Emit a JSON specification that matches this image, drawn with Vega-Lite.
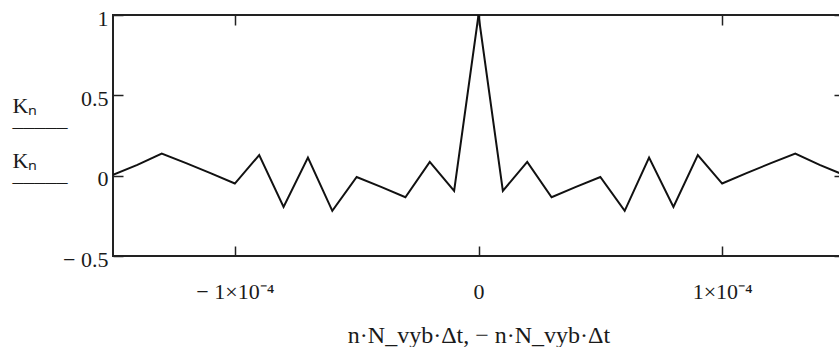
{
  "$schema": "https://vega.github.io/schema/vega-lite/v6.json",
  "width": 731,
  "height": 241,
  "autosize": "none",
  "padding": {"left": 113, "top": 15, "right": 0, "bottom": 91},
  "background": "white",
  "config": {
    "view": {"stroke": "#222", "strokeWidth": 2},
    "font": "Liberation Serif"
  },
  "data": {
    "values": [
      {"series": "pos", "t": 0, "k": 1},
      {"series": "pos", "t": 0.00001, "k": -0.095},
      {"series": "pos", "t": 0.00002, "k": 0.086},
      {"series": "pos", "t": 0.00003, "k": -0.134},
      {"series": "pos", "t": 0.00004, "k": -0.07},
      {"series": "pos", "t": 0.00005, "k": -0.008},
      {"series": "pos", "t": 0.00006, "k": -0.219},
      {"series": "pos", "t": 0.00007, "k": 0.113},
      {"series": "pos", "t": 0.00008, "k": -0.194},
      {"series": "pos", "t": 0.00009, "k": 0.128},
      {"series": "pos", "t": 0.0001, "k": -0.049},
      {"series": "pos", "t": 0.00011, "k": 0.016},
      {"series": "pos", "t": 0.00012, "k": 0.078},
      {"series": "pos", "t": 0.00013, "k": 0.138},
      {"series": "pos", "t": 0.00014, "k": 0.067},
      {"series": "pos", "t": 0.00015, "k": 0.005},
      {"series": "neg", "t": 0, "k": 1},
      {"series": "neg", "t": -0.00001, "k": -0.095},
      {"series": "neg", "t": -0.00002, "k": 0.086},
      {"series": "neg", "t": -0.00003, "k": -0.134},
      {"series": "neg", "t": -0.00004, "k": -0.07},
      {"series": "neg", "t": -0.00005, "k": -0.008},
      {"series": "neg", "t": -0.00006, "k": -0.219},
      {"series": "neg", "t": -0.00007, "k": 0.113},
      {"series": "neg", "t": -0.00008, "k": -0.194},
      {"series": "neg", "t": -0.00009, "k": 0.128},
      {"series": "neg", "t": -0.0001, "k": -0.049},
      {"series": "neg", "t": -0.00011, "k": 0.016},
      {"series": "neg", "t": -0.00012, "k": 0.078},
      {"series": "neg", "t": -0.00013, "k": 0.138},
      {"series": "neg", "t": -0.00014, "k": 0.067},
      {"series": "neg", "t": -0.00015, "k": 0.005}
    ]
  },
  "layer": [
    {
      "mark": {"type": "line", "color": "#111", "strokeWidth": 2, "clip": true},
      "encoding": {
        "x": {
          "field": "t", "type": "quantitative",
          "scale": {"domain": [-0.00015, 0.00015], "nice": false, "zero": false},
          "axis": {
            "orient": "bottom",
            "values": [-0.0001, 0, 0.0001],
            "labelExpr": "datum.value == 0 ? '0' : (datum.value < 0 ? '− 1×10⁻⁴' : '1×10⁻⁴')",
            "tickSize": -10, "tickColor": "#222", "tickWidth": 1.5,
            "domain": false, "grid": false,
            "labelFont": "Liberation Serif", "labelFontSize": 22, "labelColor": "#1a1a1a",
            "labelBaseline": "top", "labelPadding": 35, "labelFlush": false,
            "title": "n·N_vyb·Δt, − n·N_vyb·Δt",
            "titleFont": "Liberation Serif", "titleFontSize": 24, "titleFontWeight": "normal", "titleColor": "#1a1a1a",
            "titleBaseline": "alphabetic", "titleY": 86
          }
        },
        "y": {
          "field": "k", "type": "quantitative",
          "scale": {"domain": [-0.5, 1], "nice": false, "zero": false},
          "axis": {
            "orient": "left",
            "values": [-0.5, 0, 0.5, 1],
            "labelExpr": "datum.value == 1 ? '1' : (datum.value == 0.5 ? '0.5' : (datum.value == 0 ? '0' : '− 0.5'))",
            "tickSize": -10, "tickColor": "#222", "tickWidth": 1.5,
            "domain": false, "grid": false,
            "labelFont": "Liberation Serif", "labelFontSize": 22, "labelColor": "#1a1a1a",
            "labelPadding": 15, "labelFlush": false, "labelOffset": 3, "labelBaseline": "middle",
            "title": ["Kₙ", "_____"],
            "titleFont": "Liberation Serif", "titleFontSize": 22, "titleFontWeight": "normal", "titleColor": "#1a1a1a",
            "titleAngle": 0, "titleAlign": "left", "titleBaseline": "alphabetic",
            "titleLineHeight": 13.5, "titleX": -101, "titleY": 97
          }
        },
        "detail": {"field": "series"}
      }
    },
    {
      "mark": {"type": "line", "opacity": 0},
      "encoding": {
        "x": {
          "field": "t", "type": "quantitative",
          "axis": {
            "orient": "top", "values": [-0.0001, 0, 0.0001],
            "labels": false, "title": null, "domain": false, "grid": false,
            "tickSize": -10, "tickColor": "#222", "tickWidth": 1.5
          }
        },
        "y": {
          "field": "k", "type": "quantitative",
          "axis": {
            "orient": "right", "values": [-0.5, 0, 0.5, 1],
            "labels": false, "domain": false, "grid": false,
            "tickSize": -10, "tickColor": "#222", "tickWidth": 1.5,
            "title": ["Kₙ", "_____"],
            "titleFont": "Liberation Serif", "titleFontSize": 22, "titleFontWeight": "normal", "titleColor": "#1a1a1a",
            "titleAngle": 0, "titleAlign": "left", "titleBaseline": "alphabetic",
            "titleLineHeight": 13.5, "titleX": -832, "titleY": 152
          }
        },
        "detail": {"field": "series"}
      }
    }
  ],
  "resolve": {"axis": {"x": "independent", "y": "independent"}}
}
